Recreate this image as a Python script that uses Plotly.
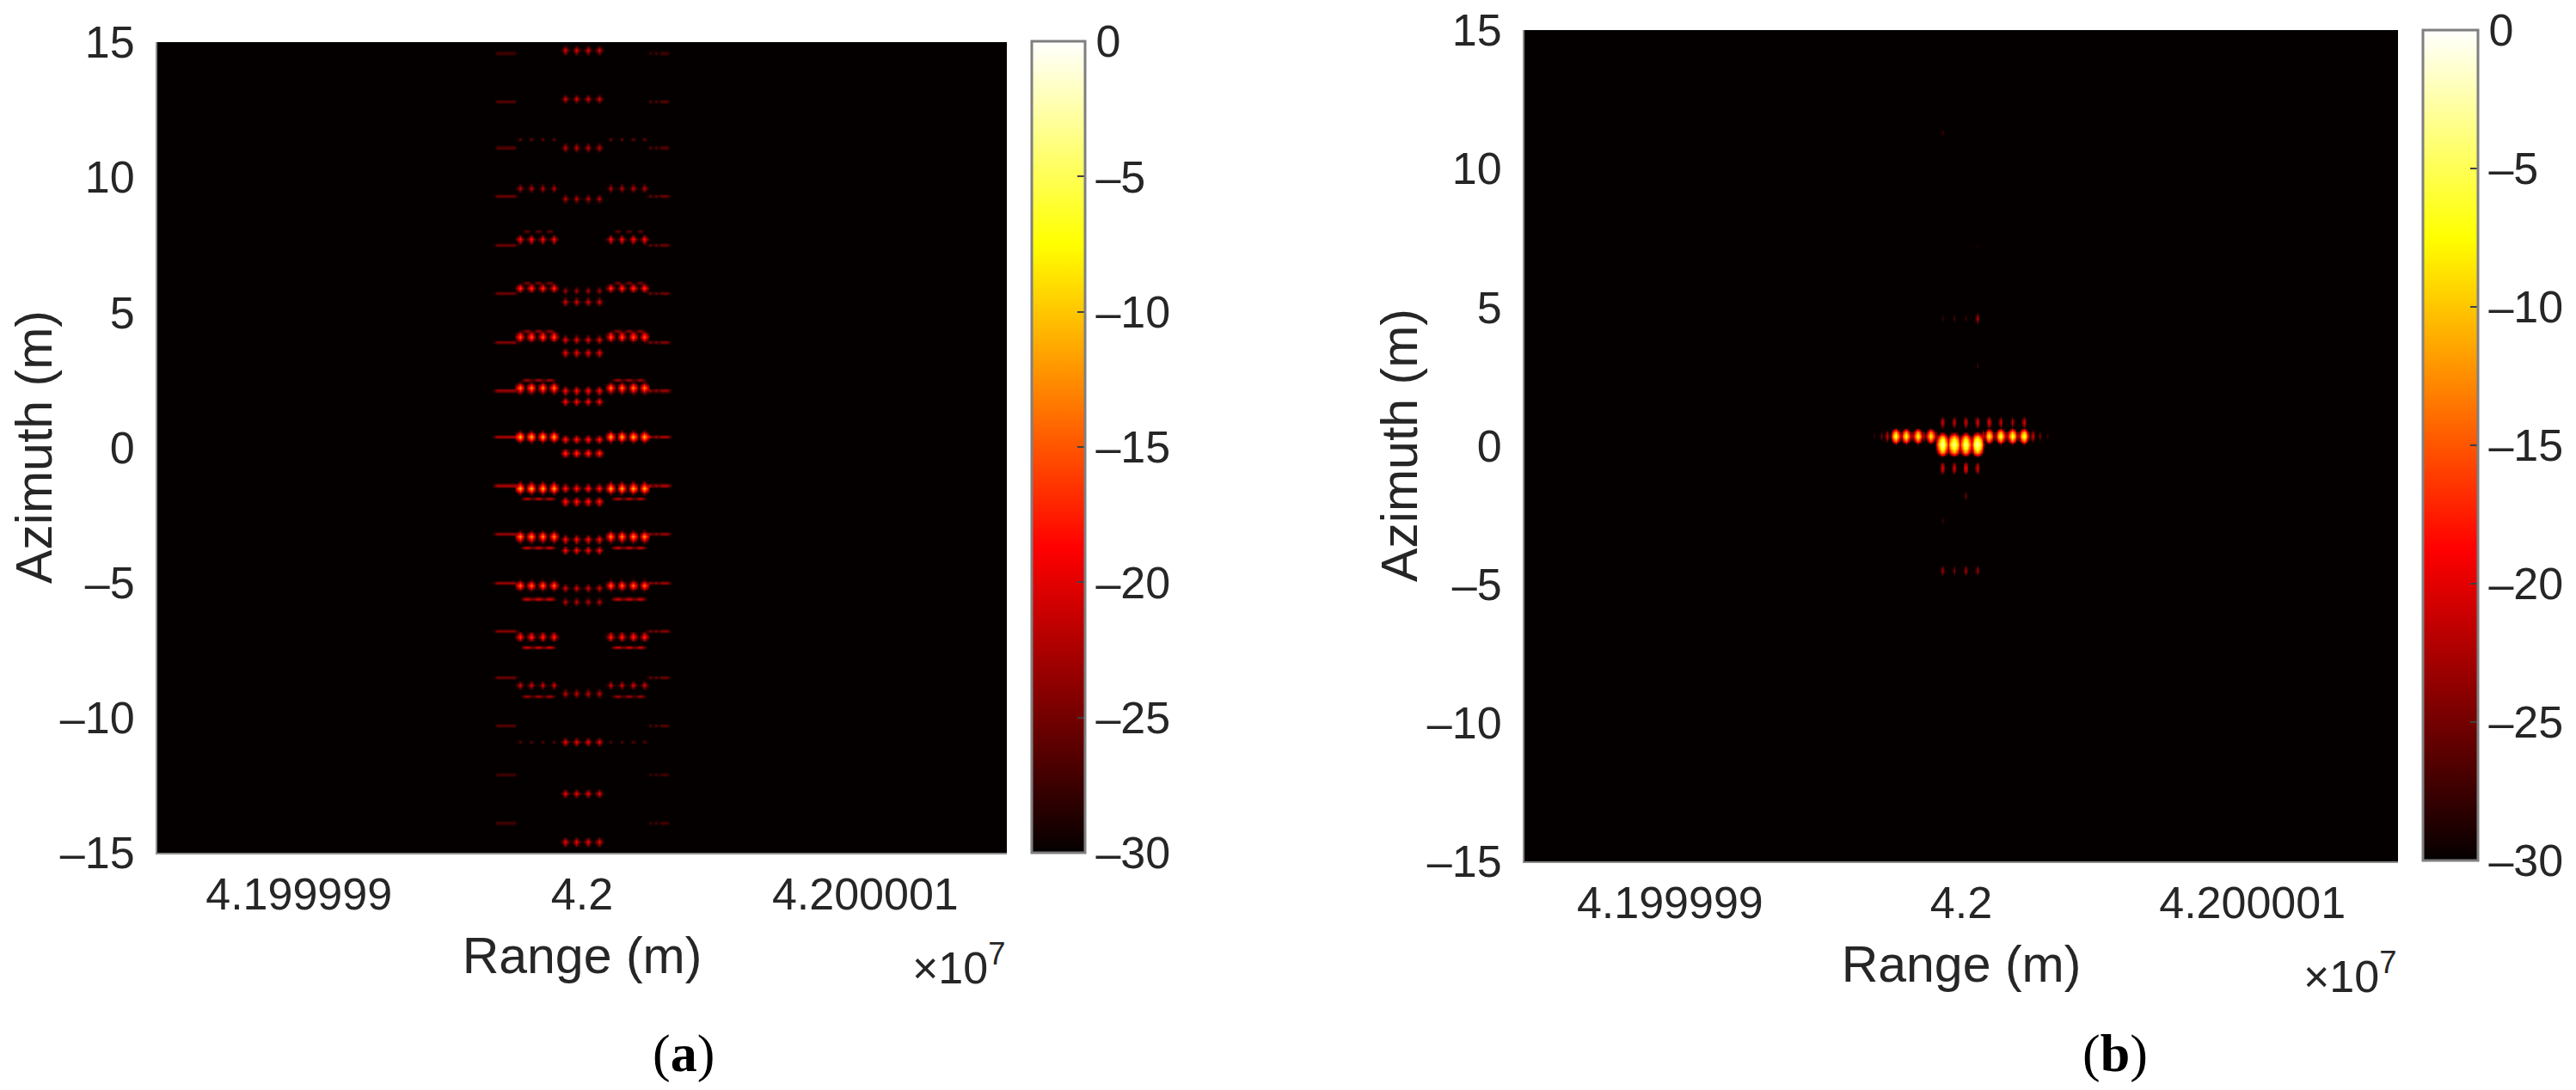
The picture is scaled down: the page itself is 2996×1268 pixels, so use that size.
import numpy as np
import plotly.graph_objects as go

W, H = 2996, 1268
ML, MR, MT, MB = 183, 114, 35, 266  # outer margins, the plot area is fixed by these
CENTER = 42000000  # range centre in m, axes run +-15 m around it

# shared tick labels
x_tickvals = [41999990, 42000000, 42000010]
x_ticktext = ["4.199999", "4.2", "4.200001"]
y_tickvals = [15, 10, 5, 0, -5, -10, -15]
y_ticktext = ["15", "10", "5", "0", "\u20135", "\u201310", "\u201315"]
cb_tickvals = [0, -5, -10, -15, -20, -25, -30]
cb_ticktext = ["0", "\u20135", "\u201310", "\u201315", "\u201320", "\u201325", "\u201330"]

# MATLAB hot
hot = [[0, "#040000"], [0.375, "#ff0000"], [0.75, "#ffff00"], [1, "#ffffff"]]

# ---- panel (a): peaks, offsets in m, levels in dB
a_outer_x = [-2.2, -1.8, -1.43, -1.03, 0.97, 1.37, 1.77, 2.16]
a_outer_az = [11.37, 9.56, 7.72, 5.87, 4.06, 2.21, 0.37, -1.48, -3.32, -5.14, -6.98, -8.8, -10.9]
a_outer_db = [-25, -21, -18, -16, -14.5, -12.5, -10.5, -10.5, -12, -13.5, -16.5, -20, -26]
a_center_x = [-0.64, -0.24, 0.18, 0.58]
a_center_az = [14.7, 12.9, 11.06, 9.21, 5.81, 5.36, 3.96, 3.52, 2.12, 1.67, 0.27, -0.17,
               -1.54, -1.99, -3.39, -3.83, -5.2, -5.65, -9.12, -10.93, -12.77, -14.62]
a_center_db = [-20, -20, -21, -21, -22, -20, -19, -19, -18, -18, -17, -16,
               -17, -17, -18, -18, -20, -21, -21, -19, -19, -19]
a_streak_x = [-3.0, -2.9, -2.8, -2.7, -2.6, -2.5, -2.4, 2.35, 2.45, 2.55, 2.65, 2.75, 2.85, 2.95, 3.05]
a_streak_az = [14.59, 12.84, 11.06, 9.28, 7.46, 5.71, 3.93, 2.15, 0.37, -1.45, -3.2, -4.98,
               -6.76, -8.54, -10.32, -12.1, -13.89]
a_streak_db = [-27, -26, -26, -25, -25, -25, -24, -23, -22, -22, -23, -23, -24, -25, -26, -27, -27]
# arcs joining the outer peaks, above the row on top, under it at the bottom
a_arc_x = [-2.0, -1.9, -1.62, -1.52, -1.23, -1.13, 1.17, 1.27, 1.57, 1.67, 1.97, 2.07]
a_arc_az = [7.98, 6.13, 4.32, 2.47, -1.9, -3.74, -5.56, -7.42, -9.25]
a_arc_db = [-26, -25, -24, -23, -22, -21, -21, -21, -23]

# ---- panel (b)
b_upper_x = [-2.27, -1.88, -1.48, -1.07, 0.93, 1.33, 1.74, 2.13]
b_upper_db = [-6, -7, -7, -8, -8, -6, -6, -6]
b_upper_az = [0.34]
b_bright_x = [-0.67, -0.27, 0.14, 0.53]
b_bright_db = [-3, -3, -4, -2]
b_bright_az = [0.05]
b_tip_x = [-0.67, -0.27, 0.14, 0.53, 0.93, 1.33, 1.74, 2.13]
b_tip_up_db = [-21, -21, -21, -20, -20, -21, -22, -21]
b_tip_up_az = [0.86]
b_tip_low_db = [-20, -20, -19, -20]
b_tip_low_az = [-0.79]
b_link_x = [-2.08, -1.68, -1.28, -0.87, 0.73, 1.13, 1.53, 1.93, 2.43, 2.7, 2.97, -3.0, -2.77, -2.54]
b_link_db = [-23, -23, -22, -24, -20, -24, -23, -23, -21, -24, -27, -27, -25, -21]
b_link_az = [0.34]
b_far_x = [-0.67, -0.27, 0.14, 0.53]
b_far_up_db = [-27, -26, -27, -22]
b_far_up_az = [4.59]
b_far_low_db = [-23, -24, -23, -23]
b_far_low_az = [-4.49]
b_dot_x = [-0.67, 0.53, 0.53, -0.67, 0.14]
b_dot_az = [11.3, 7.18, 2.9, -2.7, -1.8]
b_dot_db = [-27, -28, -27, -27, -25]

# dB drop per grid cell away from a peak
a_drop_x = [0, -7, -20]
a_drop_y = [0, -5, -14, -24]
a_thin_x = [0, -4]
a_thin_y = [0, -13]
b_drop_x = [0, -2, -5, -10, -17, -25]
b_bright_y = [0, -1, -2, -3, -5, -7, -10, -14, -19, -25]
b_upper_dx = [0, -3, -8, -15, -24]
b_upper_y = [0, -1, -3, -6, -10, -15, -21, -28]
b_tip_dx = [0, -4, -12, -24]
b_tip_dy = [0, -1, -2, -4, -7, -12]


def stamp(z, xs, ys, xs_db, ys_db, drop_x, drop_y, step):
    # peak cells plus their footprint; brightest value wins where they overlap
    n = z.shape[0]
    for yv, ydb in zip(ys, ys_db):
        for xv, xdb in zip(xs, xs_db):
            ci = round((xv + 15) / step)
            cj = round((yv + 15) / step)
            for dj, dy in enumerate(drop_y):
                for di, dx in enumerate(drop_x):
                    for sj in (-dj, dj):
                        for si in (-di, di):
                            if 0 <= cj + sj < n and 0 <= ci + si < n:
                                level = ydb + xdb + dx + dy
                                z[cj + sj, ci + si] = max(z[cj + sj, ci + si], level)


step_a = 0.1
xa = np.arange(301) * step_a - 15
za = np.full((301, 301), -30.0)
stamp(za, a_streak_x, a_streak_az, [0] * len(a_streak_x), a_streak_db, a_thin_x, a_thin_y, step_a)
stamp(za, a_arc_x, a_arc_az, [0] * len(a_arc_x), a_arc_db, a_thin_x, a_thin_y, step_a)
stamp(za, a_outer_x, a_outer_az, [0] * len(a_outer_x), a_outer_db, a_drop_x, a_drop_y, step_a)
stamp(za, a_center_x, a_center_az, [0] * len(a_center_x), a_center_db, a_drop_x, a_drop_y, step_a)

step_b = 0.05
xb = np.arange(601) * step_b - 15
zb = np.full((601, 601), -30.0)
stamp(zb, b_link_x, b_link_az, b_link_db, [0], b_tip_dx, b_tip_dy, step_b)
stamp(zb, b_upper_x, b_upper_az, b_upper_db, [0], b_upper_dx, b_upper_y, step_b)
stamp(zb, b_bright_x, b_bright_az, b_bright_db, [0], b_drop_x, b_bright_y, step_b)
stamp(zb, b_tip_x, b_tip_up_az, b_tip_up_db, [0], b_tip_dx, b_tip_dy, step_b)
stamp(zb, b_bright_x, b_tip_low_az, b_tip_low_db, [0], b_tip_dx, b_tip_dy, step_b)
stamp(zb, b_far_x, b_far_up_az, b_far_up_db, [0], b_tip_dx, b_tip_dy, step_b)
stamp(zb, b_far_x, b_far_low_az, b_far_low_db, [0], b_tip_dx, b_tip_dy, step_b)
for xv, yv, dbv in zip(b_dot_x, b_dot_az, b_dot_db):
    stamp(zb, [xv], [yv], [dbv], [0], b_tip_dx, b_tip_dy, step_b)

TICK_FONT = dict(family="Liberation Sans", size=52, color="#262626")
TITLE_FONT = dict(family="Liberation Sans", size=59, color="#262626")


# pixel position in the page -> fraction of the plot area
def fx(px):
    return (px - ML) / (W - ML - MR)


def fy(py):
    return 1 - (py - MT) / (H - MT - MB)


def colorbar(left, right, top, bottom):
    return dict(
        x=fx(left), xanchor="left", xpad=0,
        y=fy(bottom), yanchor="bottom", ypad=0,
        len=fy(top) - fy(bottom), lenmode="fraction",
        thickness=right - left, thicknessmode="pixels",
        outlinecolor="#7f7f7f", outlinewidth=3,
        tickmode="array", tickvals=cb_tickvals, ticktext=cb_ticktext,
        ticks="inside", ticklen=10, tickwidth=2, tickcolor="#404040",
        tickfont=TICK_FONT,
    )


fig = go.Figure()
fig.add_trace(go.Heatmap(
    x=CENTER + xa, y=xa, z=za, zmin=-30, zmax=0, colorscale=hot, zsmooth="best",
    colorbar=colorbar(1200, 1262, 48, 992), xaxis="x", yaxis="y", name="(a)",
))
fig.add_trace(go.Heatmap(
    x=CENTER + xb, y=xb, z=zb, zmin=-30, zmax=0, colorscale=hot, zsmooth="best",
    colorbar=colorbar(2818, 2882, 35, 1001), xaxis="x2", yaxis="y2", name="(b)",
))


def xaxis(left, right, anchor):
    return dict(
        domain=[fx(left), fx(right)], range=[CENTER - 15, CENTER + 15], anchor=anchor,
        tickmode="array", tickvals=x_tickvals, ticktext=x_ticktext, tickfont=TICK_FONT,
        ticks="", ticklabelstandoff=2, showgrid=False, zeroline=False,
        showline=True, linecolor="#8c8c8c", linewidth=2,
        title=dict(text="Range (m)", font=TITLE_FONT, standoff=22),
    )


def yaxis(top, bottom, anchor):
    return dict(
        domain=[fy(bottom), fy(top)], range=[-15, 15], anchor=anchor,
        tickmode="array", tickvals=y_tickvals, ticktext=y_ticktext, tickfont=TICK_FONT,
        ticks="", ticklabelstandoff=14, showgrid=False, zeroline=False,
        showline=True, linecolor="#8c8c8c", linewidth=2,
    )


def note(text, x, y, font, xanchor="center", angle=0):
    return dict(text=text, x=fx(x), y=fy(y), xref="paper", yref="paper", textangle=angle,
                showarrow=False, font=font, xanchor=xanchor, yanchor="middle")


SERIF = dict(family="Liberation Serif", size=62, color="#000000")
fig.update_layout(
    width=W, height=H, autosize=False,
    margin=dict(l=ML, r=MR, t=MT, b=MB, pad=0, autoexpand=False),
    paper_bgcolor="white", plot_bgcolor="#040000", showlegend=False,
    xaxis=xaxis(183, 1171, "y"), yaxis=yaxis(49, 992, "x"),
    xaxis2=xaxis(1773, 2789, "y2"), yaxis2=yaxis(35, 1002, "x2"),
    annotations=[
        note("Azimuth (m)", 40, 520, TITLE_FONT, angle=-90),
        note("Azimuth (m)", 1628, 518, TITLE_FONT, angle=-90),
        note("\u00d710<sup>7</sup>", 1171, 1122, TICK_FONT, "right"),
        note("\u00d710<sup>7</sup>", 2789, 1132, TICK_FONT, "right"),
        note("(<b>a</b>)", 795, 1225, SERIF),
        note("(<b>b</b>)", 2460, 1225, SERIF),
    ],
)

fig.write_html("out.html", config={"displayModeBar": False},
               post_script="document.body.style.margin='0';")
